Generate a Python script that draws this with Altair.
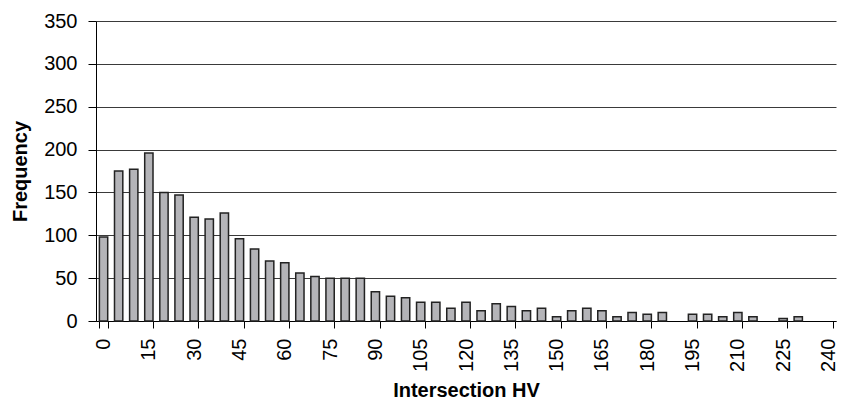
import altair as alt
import pandas as pd

# Histogram bins (Intersection HV) and frequencies
bins = list(range(0, 245, 5))
freq = [98, 175, 177, 196, 150, 147, 121, 119, 126, 96,
        84, 70, 68, 56, 52, 50, 50, 50, 34, 29,
        27, 22, 22, 15, 22, 12, 20, 17, 12, 15,
        5, 12, 15, 12, 5, 10, 8, 10, 0, 8,
        8, 5, 10, 5, 0, 3, 5, 0, 0]
x_labels = list(range(0, 245, 15))
y_ticks = list(range(0, 351, 50))

df = pd.DataFrame({"bin": bins, "freq": freq})

FONT = "Liberation Sans"

chart = (
    alt.Chart(df)
    .transform_filter("datum.freq > 0")
    .mark_bar(fill="#b4b4b8", stroke="#222222", strokeWidth=1.5)
    .encode(
        x=alt.X(
            "bin:O",
            scale=alt.Scale(domain=bins, paddingInner=0.45, paddingOuter=0.225),
            axis=alt.Axis(
                title="Intersection HV",
                values=x_labels,
                labelAngle=-90,
                labelFontSize=20,
                labelPadding=10,
                labelColor="#000000",
                tickBand="extent",
                tickSize=7,
                tickColor="#000000",
                domainColor="#000000",
                grid=False,
                titleFontSize=20,
                titleFontWeight="bold",
                titleColor="#000000",
                titleBaseline="alphabetic",
                titleY=75,
            ),
        ),
        y=alt.Y(
            "freq:Q",
            scale=alt.Scale(domain=[0, 350], nice=False),
            axis=alt.Axis(
                title="Frequency",
                values=y_ticks,
                labelFontSize=20,
                labelPadding=11,
                labelColor="#000000",
                tickSize=8,
                tickColor="#000000",
                domainColor="#000000",
                grid=True,
                gridColor="#3a3a3a",
                gridWidth=1,
                titleFontSize=20,
                titleFontWeight="bold",
                titleColor="#000000",
                titleBaseline="alphabetic",
                titleX=-70,
            ),
        ),
    )
    .properties(
        width=740,
        height=300,
        autosize=alt.AutoSizeParams(type="none"),
        padding={"left": 88, "top": 13, "right": 3, "bottom": 79},
    )
    .configure(font=FONT)
    .configure_view(stroke=None)
)

chart.save("out.html", embed_options={"renderer": "svg", "actions": False})
